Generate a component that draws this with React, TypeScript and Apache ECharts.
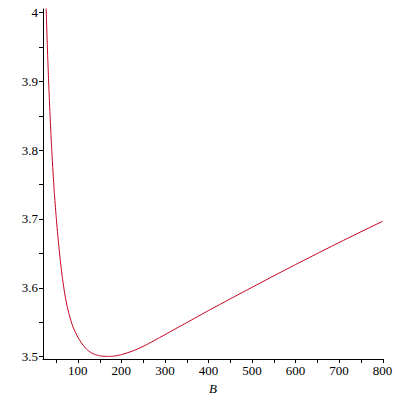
import React, { useEffect, useRef } from "react";
import * as echarts from "echarts";

const bValues = [26, 28, 30, 32, 34, 36, 38, 40, 43, 46, 50, 55, 60, 65, 70, 75, 80, 85, 90, 100, 110, 120, 130, 140, 150, 160, 170, 180, 190, 200, 225, 250, 275, 300, 325, 350, 400, 450, 500, 550, 600, 650, 700, 750, 800];
const yValues = [4.035, 3.99, 3.95, 3.915, 3.883, 3.853, 3.826, 3.801, 3.768, 3.738, 3.705, 3.669, 3.638, 3.612, 3.591, 3.574, 3.561, 3.55, 3.541, 3.528, 3.518, 3.5105, 3.5055, 3.5025, 3.5008, 3.5001, 3.4999, 3.5002, 3.501, 3.5025, 3.5075, 3.5145, 3.5228, 3.5315, 3.5403, 3.549, 3.5665, 3.5835, 3.6003, 3.617, 3.6334, 3.6495, 3.6654, 3.681, 3.6963];
const xTickValues = [50, 100, 150, 200, 250, 300, 350, 400, 450, 500, 550, 600, 650, 700, 750, 800];
const xLabelValues = [100, 200, 300, 400, 500, 600, 700, 800];
const yTickValues = [3.5, 3.55, 3.6, 3.65, 3.7, 3.75, 3.8, 3.85, 3.9, 3.95, 4.0];
const yLabelValues = [3.5, 3.6, 3.7, 3.8, 3.9, 4.0];
const xAxisName = "B";

const X_MIN = 20;
const X_MAX = 801;
const Y_MIN = 3.496;
const Y_MAX = 4.005;

export default function App() {
  const ref = useRef<HTMLDivElement>(null);
  useEffect(() => {
    if (!ref.current) return;
    const chart = echarts.init(ref.current, null, { renderer: "svg" });
    const font = "'Liberation Serif', 'Times New Roman', serif";
    const tickLen = 4;
    chart.setOption({
      animation: false,
      backgroundColor: "#ffffff",
      grid: { left: 43, right: 17, top: 9, bottom: 40, containLabel: false },
      xAxis: {
        type: "value",
        min: X_MIN,
        max: X_MAX,
        name: xAxisName,
        nameLocation: "middle",
        nameGap: 21,
        nameTextStyle: { fontFamily: font, fontStyle: "italic", fontSize: 13, color: "#000" },
        axisLine: { show: true, onZero: false, lineStyle: { color: "#000", width: 1 } },
        axisTick: { show: false },
        axisLabel: {
          customValues: xLabelValues,
          fontFamily: font,
          fontSize: 13,
          color: "#000",
          margin: 5,
        },
        splitLine: { show: false },
      },
      yAxis: {
        type: "value",
        min: Y_MIN,
        max: Y_MAX,
        axisLine: { show: true, onZero: false, lineStyle: { color: "#000", width: 1 } },
        axisTick: { show: false },
        axisLabel: {
          customValues: yLabelValues,
          fontFamily: font,
          fontSize: 13,
          color: "#000",
          margin: 5,
          formatter: (v: number) => String(Math.round(v * 10) / 10),
        },
        splitLine: { show: false },
      },
      series: [
        {
          type: "line",
          data: bValues.map((b, i) => [b, yValues[i]]),
          showSymbol: false,
          smooth: 0.2,
          clip: true,
          lineStyle: { color: "#c4001f", width: 1 },
          z: 3,
        },
        {
          type: "custom",
          clip: false,
          silent: true,
          data: xTickValues.map((v) => [v, Y_MIN]),
          renderItem: (params: any, api: any) => {
            const p = api.coord([api.value(0), Y_MIN]);
            const x = Math.round(p[0]) + 0.5;
            const y = Math.round(p[1]);
            return {
              type: "line",
              shape: { x1: x, y1: y, x2: x, y2: y + tickLen },
              style: { stroke: "#000", lineWidth: 1 },
            };
          },
        },
        {
          type: "custom",
          clip: false,
          silent: true,
          data: yTickValues.map((v) => [X_MIN, v]),
          renderItem: (params: any, api: any) => {
            const p = api.coord([X_MIN, api.value(1)]);
            const x = Math.round(p[0]);
            const y = Math.round(p[1]) + 0.5;
            return {
              type: "line",
              shape: { x1: x - tickLen, y1: y, x2: x, y2: y },
              style: { stroke: "#000", lineWidth: 1 },
            };
          },
        },
      ],
    });
    return () => chart.dispose();
  }, []);
  return <div ref={ref} style={{ position: "fixed", left: 0, top: 0, width: 400, height: 400 }} />;
}
